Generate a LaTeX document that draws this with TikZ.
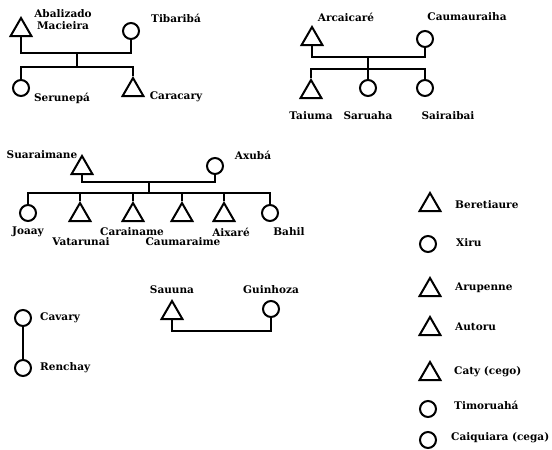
\documentclass[tikz,border=0pt]{standalone}
\usepackage{fontspec}
\setmainfont{DejaVu Serif}
\usepackage{tikz}
\usetikzlibrary{shapes.geometric}

\tikzset{
  male/.style={draw,regular polygon,regular polygon sides=3,minimum size=24pt,inner sep=0pt,line width=2pt},
  female/.style={draw,circle,minimum size=16pt,inner sep=0pt,line width=2pt},
  pname/.style={font=\bfseries\fontsize{10.5}{12}\selectfont,inner sep=0pt},
  kin/.style={line width=2pt}
}

\begin{document}
\begin{tikzpicture}[x=1pt,y=-1pt]
\useasboundingbox (0,0) rectangle (552,450);
% first family
\node[male] (abal) at (21,30) {};
\node[female] (tib) at (131,31) {};
\node[female] (seru) at (21,88) {};
\node[male] (cara) at (133,90) {};
\node[pname,align=center] (abal-l) at (63,20) {Abalizado\\Macieira};
\node[pname] (tib-l) at (176,18) {Tibaribá};
\node[pname] (seru-l) at (62,98) {Serunepá};
\node[pname] (cara-l) at (176,97) {Caracary};
\coordinate (m1) at (77,53);
\coordinate (c1) at (77,67);
\draw[kin] (abal.south) |- (m1) -| (tib.south);
\draw[kin] (m1) -- (c1);
\draw[kin] (seru.north) |- (c1) -| (cara.north);
% second family
\node[male] (arca) at (312,39) {};
\node[female] (caum) at (425,39) {};
\node[male] (taiu) at (311,92) {};
\node[female] (saru) at (368,88) {};
\node[female] (sair) at (425,88) {};
\node[pname] (arca-l) at (346,17) {Arcaicaré};
\node[pname] (caum-l) at (467,17) {Caumauraiha};
\node[pname] (taiu-l) at (311,116) {Taiuma};
\node[pname] (saru-l) at (368,116) {Saruaha};
\node[pname] (sair-l) at (448,116) {Sairaibai};
\coordinate (m2) at (368,57);
\coordinate (c2) at (368,69);
\draw[kin] (arca.south) |- (m2) -| (caum.south);
\draw[kin] (m2) -- (saru.north);
\draw[kin] (taiu.north) |- (c2) -| (sair.north);
% third family
\node[male] (suar) at (82,168) {};
\node[female] (axub) at (215,166) {};
\node[female] (joaa) at (28,213) {};
\node[male] (vata) at (80,215) {};
\node[male] (carn) at (133,215) {};
\node[male] (cmar) at (182,215) {};
\node[male] (aixa) at (224,215) {};
\node[female] (bahi) at (270,213) {};
\node[pname] (suar-l) at (42,155) {Suaraimane};
\node[pname] (axub-l) at (253,155) {Axubá};
\node[pname] (joaa-l) at (28,232) {Joaay};
\node[pname] (vata-l) at (81,242) {Vatarunai};
\node[pname] (carn-l) at (132,232) {Carainame};
\node[pname] (cmar-l) at (183,242) {Caumaraime};
\node[pname] (aixa-l) at (231,232) {Aixaré};
\node[pname] (bahi-l) at (289,232) {Bahil};
\coordinate (m3) at (149,182);
\coordinate (c3) at (149,193);
\draw[kin] (suar.south) |- (m3) -| (axub.south);
\draw[kin] (m3) -- (c3);
\draw[kin] (joaa.north) |- (c3) -| (bahi.north);
\draw[kin] (vata.north) |- (c3);
\draw[kin] (carn.north) |- (c3);
\draw[kin] (cmar.north) |- (c3);
\draw[kin] (aixa.north) |- (c3);
% Cavary and Renchay
\node[female] (cava) at (23,318) {};
\node[female] (renc) at (23,368) {};
\node[pname,anchor=west] (cava-l) at (40,318) {Cavary};
\node[pname,anchor=west] (renc-l) at (40,368) {Renchay};
\draw[kin] (cava) -- (renc);
% Sauuna and Guinhoza
\node[male] (sauu) at (172,313) {};
\node[female] (guin) at (271,309) {};
\node[pname] (sauu-l) at (172,290) {Sauuna};
\node[pname] (guin-l) at (271,290) {Guinhoza};
\coordinate (m4) at (172,331);
\draw[kin] (sauu.south) |- (m4) -| (guin.south);
% single persons
\node[male] (bere) at (430,205) {};
\node[female] (xiru) at (428,244) {};
\node[male] (arup) at (430,290) {};
\node[male] (auto) at (430,329) {};
\node[male] (caty) at (430,374) {};
\node[female] (timo) at (428,409) {};
\node[female] (caiq) at (428,440) {};
\node[pname,anchor=west] (bere-l) at (455,205) {Beretiaure};
\node[pname,anchor=west] (xiru-l) at (456,243) {Xiru};
\node[pname,anchor=west] (arup-l) at (455,288) {Arupenne};
\node[pname,anchor=west] (auto-l) at (455,327) {Autoru};
\node[pname,anchor=west] (caty-l) at (454,372) {Caty (cego)};
\node[pname,anchor=west] (timo-l) at (454,405) {Timoruahá};
\node[pname,anchor=west] (caiq-l) at (451,438) {Caiquiara (cega)};
\end{tikzpicture}
\end{document}
